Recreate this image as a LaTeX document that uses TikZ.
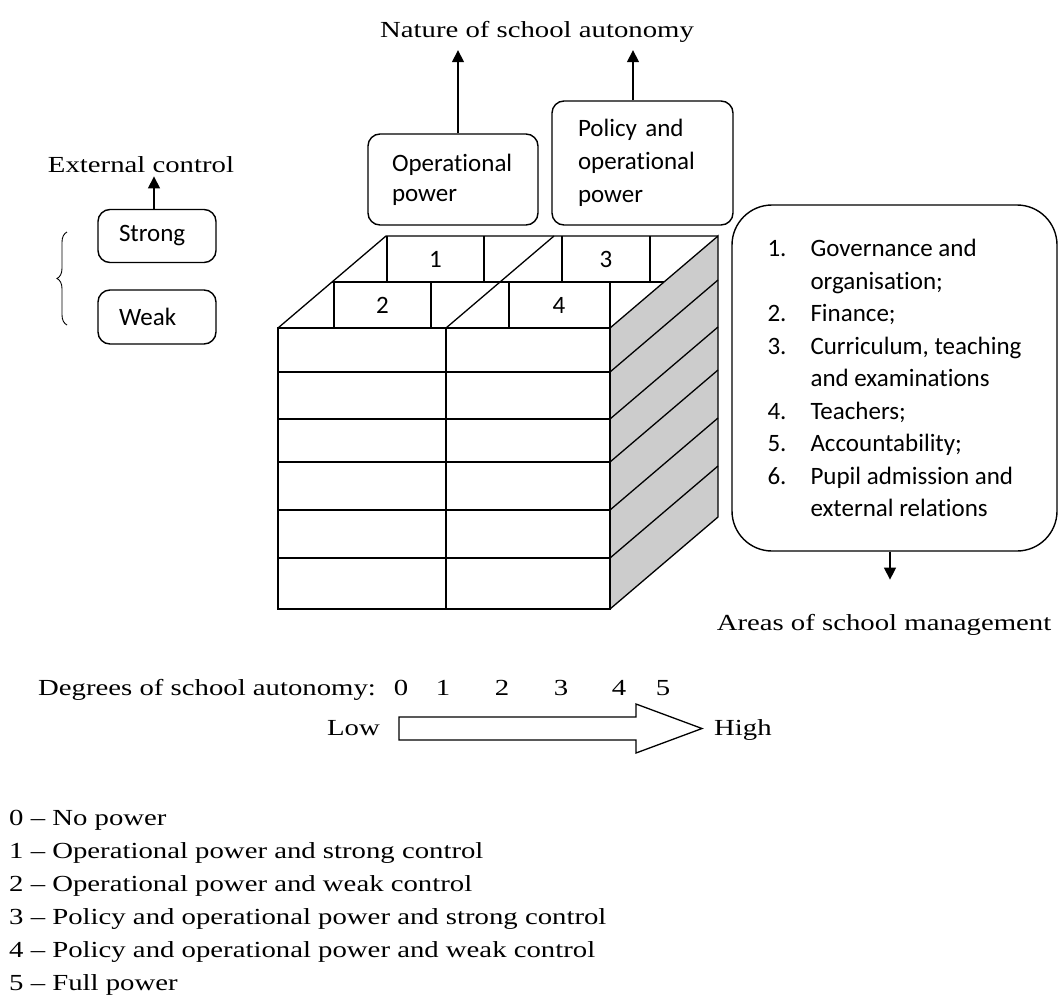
\documentclass[tikz,border=0pt]{standalone}
\usepackage{fontspec}
\setmainfont[FakeStretch=1.25]{Liberation Serif}
\newfontfamily\boxfont[Ligatures=NoCommon]{Carlito}
\usetikzlibrary{arrows.meta,decorations.pathreplacing}
\newcommand\itm[1]{\makebox[43pt][l]{#1}}
\begin{document}
\begin{tikzpicture}[x=1pt,y=-1pt,
  serif/.style={font=\fontsize{23}{28}\selectfont, inner sep=0pt},
  rbox/.style={draw, line width=1.4pt, rounded corners=12pt, font=\boxfont\fontsize{25}{30}\selectfont, align=left, inner ysep=0pt},
  arr/.style={line width=1.4pt, -{Triangle[width=12pt,length=12pt]}},
  cube/.style={line width=1.3pt, line join=miter},
  num/.style={font=\boxfont\fontsize{25}{30}\selectfont, inner sep=0pt},
  legend/.style={serif, anchor=base west}]
\useasboundingbox (0,0) rectangle (1059,996);

% ---- cube ----
\fill[gray!40] (610,328) -- (718,236) -- (718,517) -- (610,609) -- cycle;
\draw[cube] (610,328) -- (718,236) -- (718,517) -- (610,609);
\foreach \yy in {372,419,462,510,558} {
  \draw[cube] (610,\yy) -- ++(108,-92);
  \draw[cube] (278,\yy) -- (610,\yy);
}
\draw[cube] (278,328) rectangle (610,609);
\draw[cube] (446,328) -- (446,609);
% top face
\draw[cube] (278,328) -- (386,236) -- (718,236);
\draw[cube] (446,328) -- (554,236);
\draw[cube] (332,282) -- (664,282);
\foreach \xx in {387,484,562,650} \draw[cube] (\xx,236) -- (\xx,282);
\foreach \xx in {334,431,509,610} \draw[cube] (\xx,282) -- (\xx,328);
\node[num] (c1) at (435.5,259) {1};
\node[num] (c3) at (606,259) {3};
\node[num] (c2) at (382.5,305) {2};
\node[num] (c4) at (559,305) {4};

% ---- boxes on top ----
\node[serif, anchor=base] (nat) at (537,37) {Nature of school autonomy};
\node[rbox, minimum width=170pt, minimum height=91pt, text width=122pt, inner xsep=24pt] (op) at (453,179.5) {Operational\\power};
\node[rbox, minimum width=181pt, minimum height=124pt, text width=129pt, inner xsep=26pt, font=\boxfont\fontsize{25}{33}\selectfont] (pol) at (642.5,163) {Policy and\\operational\\power};
\draw[arr, shorten >=8pt] ([xshift=5pt]op.north) -- ([xshift=5pt]op.north |- nat.south);
\draw[arr, shorten >=8pt] ([xshift=-9.5pt]pol.north) -- ([xshift=-9.5pt]pol.north |- nat.south);

% ---- external control ----
\node[serif, anchor=base] (ext) at (141,172) {External control};
\node[rbox, minimum width=118pt, minimum height=53pt, text width=76pt, inner xsep=21pt] (strong) at (157,236) {Strong};
\node[rbox, minimum width=118pt, minimum height=54pt, text width=76pt, inner xsep=21pt] (weak) at (157,317) {Weak};
\draw[arr, shorten >=4pt] ([xshift=-3pt]strong.north) -- ([xshift=-3pt]strong.north |- ext.south);
\draw[decorate, decoration={brace, amplitude=10pt}, line width=0.9pt] (67,325) -- (67,232);

% ---- areas ----
\node[rbox, rounded corners=40pt, minimum width=325pt, minimum height=346pt, inner xsep=35pt, font=\boxfont\fontsize{25}{32.5}\selectfont] (areas) at (894.5,378)
 {\itm{1.}Governance and\\\itm{}organisation;\\\itm{2.}Finance;\\\itm{3.}Curriculum, teaching\\\itm{}and examinations\\\itm{4.}Teachers;\\\itm{5.}Accountability;\\\itm{6.}Pupil admission and\\\itm{}external relations};
\node[serif, anchor=base] (amg) at (884,630) {Areas of school management};
\draw[arr, shorten >=34pt] ([xshift=-4.5pt]areas.south) -- ([xshift=-4.5pt]areas.south |- amg.north);

% ---- degrees ----
\node[serif, anchor=base west] (deg) at (38,695) {Degrees of school autonomy:};
\node[serif, anchor=base] (d0) at (401,695) {0};
\node[serif, anchor=base] (d1) at (443,695) {1};
\node[serif, anchor=base] (d2) at (502,695) {2};
\node[serif, anchor=base] (d3) at (561,695) {3};
\node[serif, anchor=base] (d4) at (619,695) {4};
\node[serif, anchor=base] (d5) at (663,695) {5};
\draw[line width=1.3pt, line join=miter] (399,717) -- (636,717) -- (636,704) -- (702,728.5) -- (636,753) -- (636,740) -- (399,740) -- cycle;
\node[serif, anchor=base east] (low) at (380,735) {Low};
\node[serif, anchor=base west] (high) at (714,735) {High};

% ---- legend ----
\node[legend] (l0) at (9,825) {0 -- No power};
\node[legend] (l1) at (9,858) {1 -- Operational power and strong control};
\node[legend] (l2) at (9,891) {2 -- Operational power and weak control};
\node[legend] (l3) at (9,924) {3 -- Policy and operational power and strong control};
\node[legend] (l4) at (9,957) {4 -- Policy and operational power and weak control};
\node[legend] (l5) at (9,990) {5 -- Full power};
\end{tikzpicture}
\end{document}
